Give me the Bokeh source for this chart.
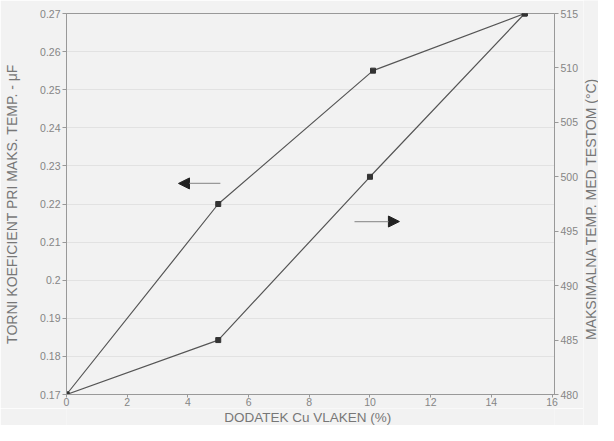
import math
from bokeh.plotting import figure
from bokeh.models import (Range1d, LinearAxis, FixedTicker, Arrow, NormalHead, Label)
from bokeh.layouts import row, column
from bokeh.embed import file_html
from bokeh.resources import INLINE

# ---- data ----
x_torque = [0, 5, 10.1, 15.1]
torque = [0.17, 0.22, 0.255, 0.27]
x_temp = [0, 5, 10, 15.1]
temp = [480, 485, 500, 515]

x_ticks = [0, 2, 4, 6, 8, 10, 12, 14, 16]
left_ticks = [0.17, 0.18, 0.19, 0.20, 0.21, 0.22, 0.23, 0.24, 0.25, 0.26, 0.27]
left_labels = ["0.17", "0.18", "0.19", "0.2", "0.21", "0.22", "0.23", "0.24", "0.25", "0.26", "0.27"]
right_ticks = [480, 485, 490, 495, 500, 505, 510, 515]

x_title = "DODATEK Cu VLAKEN (%)"
left_title = "TORNI KOEFICIENT PRI MAKS. TEMP. - \u03bcF"
right_title = "MAKSIMALNA TEMP. MED TESTOM (\u00b0C)"

# annotation arrows (data coords, left axis)
arrow_left = dict(x_start=5.07, x_end=3.69, y=0.2254)
arrow_right = dict(x_start=9.49, x_end=10.97, y=0.2154)

BG = "#f2f2f2"
TXT = "#858585"
LAB = "#777777"
FONT = "Liberation Sans"

xr = Range1d(0, 16.08)
p = figure(width=583, height=408, output_backend="svg", toolbar_location=None,
           x_range=xr, y_range=Range1d(0.17, 0.27),
           min_border_left=66, min_border_right=29, min_border_top=13, min_border_bottom=14)
p.background_fill_color = BG
p.border_fill_color = BG
p.outline_line_color = "#999999"
p.outline_line_width = 1
p.extra_y_ranges = {"temp": Range1d(480, 515)}

p.xgrid.visible = False
p.ygrid.ticker = FixedTicker(ticks=left_ticks)
p.ygrid.grid_line_color = "#e2e2e2"
p.ygrid.grid_line_width = 1

def style(ax):
    ax.axis_line_color = "#999999"
    ax.major_tick_line_color = "#999999"
    ax.minor_tick_line_color = None
    ax.major_tick_in = 0
    ax.major_tick_out = 4
    ax.major_label_text_font = FONT
    ax.major_label_text_font_size = "10.5px"
    ax.major_label_text_color = TXT
    ax.axis_label_text_font = FONT
    ax.axis_label_text_font_size = "14px"
    ax.axis_label_text_font_style = "normal"
    ax.axis_label_text_color = LAB
    ax.major_label_standoff = 2
    ax.axis_label_standoff = 3

xa = p.xaxis[0]
xa.ticker = FixedTicker(ticks=x_ticks)
style(xa)
xa.major_tick_out = 3
xa.major_label_standoff = 0

ya = p.yaxis[0]
ya.ticker = FixedTicker(ticks=left_ticks)
ya.major_label_overrides = {t: l for t, l in zip(left_ticks, left_labels)}
ya.axis_label = left_title
style(ya)
ya.axis_label_standoff = 17

ra = LinearAxis(y_range_name="temp", ticker=FixedTicker(ticks=right_ticks))
style(ra)
p.add_layout(ra, "right")

# series
p.line(x_torque, torque, line_color="#555555", line_width=1.2)
p.scatter(x_torque, torque, marker="square", size=5, color="#333333")
p.line(x_temp, temp, line_color="#555555", line_width=1.2, y_range_name="temp")
p.scatter(x_temp, temp, marker="square", size=5, color="#333333", y_range_name="temp")

# arrows
for a in (arrow_left, arrow_right):
    p.add_layout(Arrow(end=NormalHead(size=11, fill_color="#222222", line_color="#222222", line_width=1),
                       x_start=a["x_start"], y_start=a["y"], x_end=a["x_end"], y_end=a["y"],
                       line_color="#999999", line_width=1.2))

# bottom strip holding the x-axis title
pb = figure(width=583, height=17, output_backend="svg", toolbar_location=None,
            x_range=xr, y_range=Range1d(0, 1), x_axis_location=None, y_axis_location=None,
            min_border_left=66, min_border_right=29, min_border_top=0, min_border_bottom=0)
pb.background_fill_color = BG
pb.border_fill_color = BG
pb.outline_line_color = None
pb.grid.visible = False
pb.add_layout(Label(x=7.95, y=0.5, text=x_title, text_align="center", text_baseline="middle",
                    text_font=FONT, text_font_size="13.5px", text_color=LAB))

# right strip holding the right-axis title (reads bottom to top)
pr = figure(width=15, height=425, output_backend="svg", toolbar_location=None,
            x_range=Range1d(0, 1), y_range=Range1d(0, 1), x_axis_location=None, y_axis_location=None,
            min_border=0)
pr.background_fill_color = BG
pr.border_fill_color = BG
pr.outline_line_color = None
pr.grid.visible = False
pr.add_layout(Label(x=0.5, y=0.51, text=right_title, angle=math.pi / 2,
                    text_align="center", text_baseline="middle",
                    text_font=FONT, text_font_size="14px", text_color=LAB))

layout = row(column(p, pb, spacing=0), pr, spacing=0)
open("out.html", "w").write(file_html(layout, INLINE))
